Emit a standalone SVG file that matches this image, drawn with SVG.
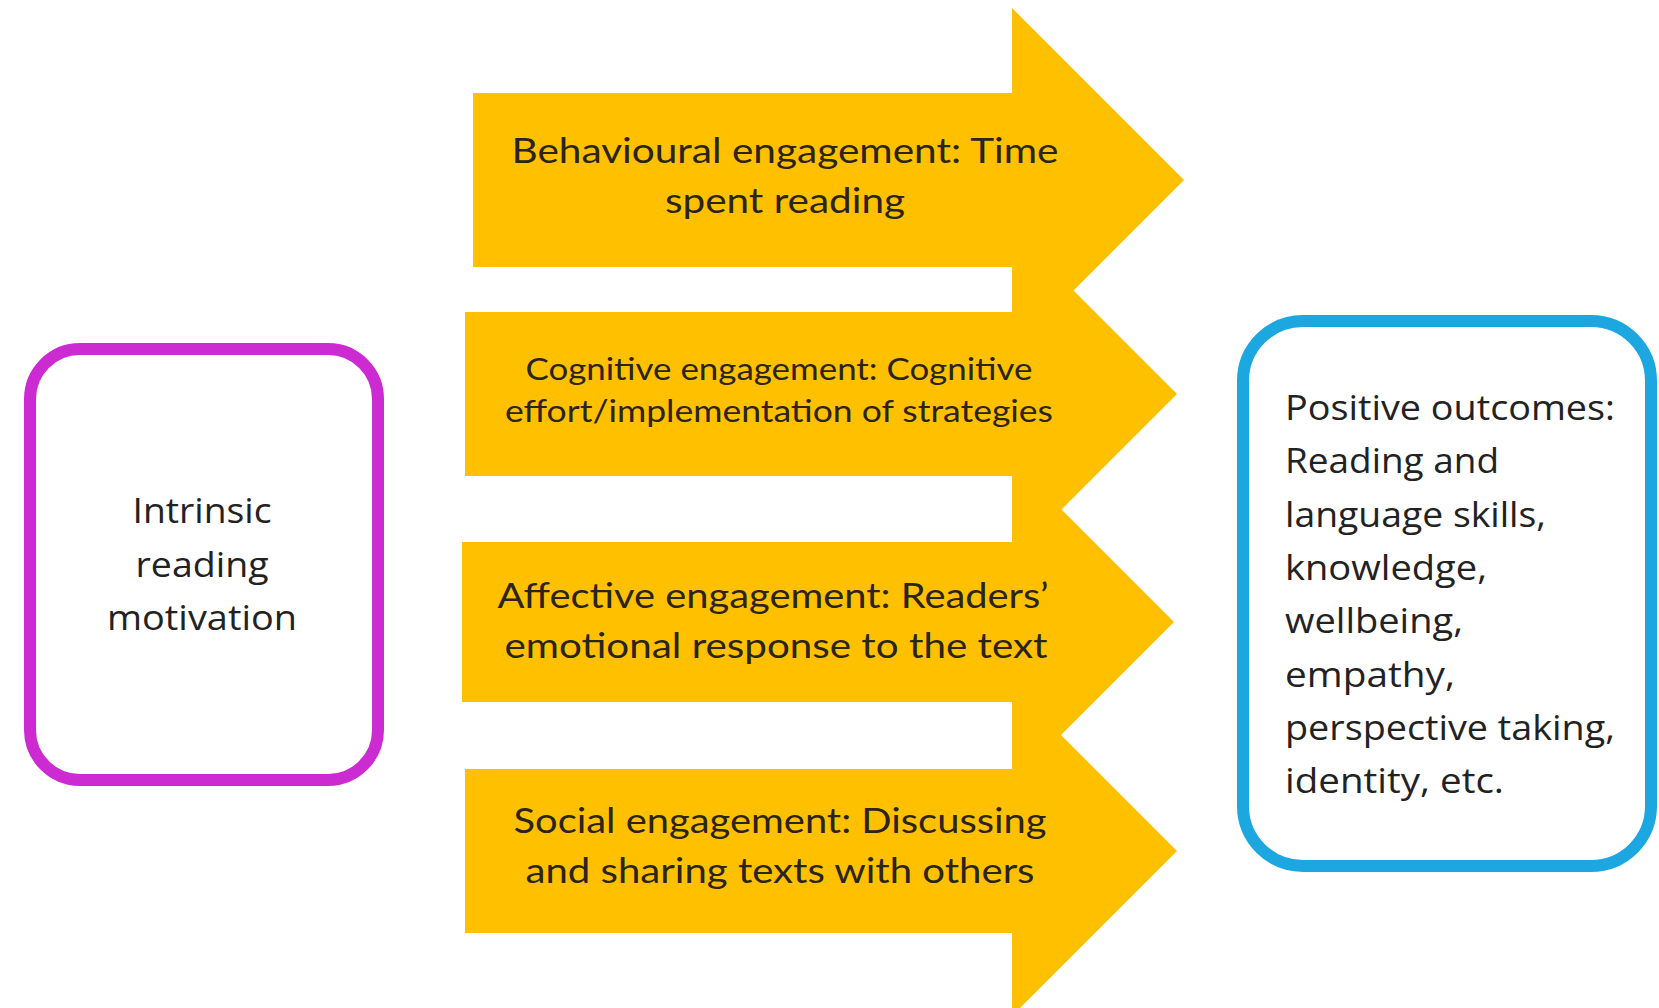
<svg xmlns="http://www.w3.org/2000/svg" width="1659" height="1008" viewBox="0 0 1659 1008">
<style>
.arrow{fill:#FFC000;stroke:none}
.at{font-family:Lato,"Liberation Sans",sans-serif;fill:#2b2418;text-anchor:middle}
.bt{font-family:"Open Sans","Noto Sans",sans-serif;fill:#222222;font-size:35px}
.box{fill:#ffffff;stroke-width:12}
</style>
<rect width="1659" height="1008" fill="#ffffff"/>
<g id="connectors">
  <g id="arrow-behavioural">
    <polygon class="arrow" points="473,93 1012,93 1012,8 1184,180 1012,352 1012,267 473,267"/>
  </g>
  <g id="arrow-cognitive">
    <polygon class="arrow" points="465,312 1012,312 1012,229 1177,394 1012,559 1012,476 465,476"/>
  </g>
  <g id="arrow-affective">
    <polygon class="arrow" points="462,542 1012,542 1012,460 1174,622 1012,784 1012,702 462,702"/>
  </g>
  <g id="arrow-social">
    <polygon class="arrow" points="465,769 1012,769 1012,686 1177,851 1012,1016 1012,933 465,933"/>
  </g>
</g>
<g id="labels">
  <text class="at" font-size="34" x="785" y="163" textLength="547" lengthAdjust="spacingAndGlyphs">Behavioural engagement: Time</text>
  <text class="at" font-size="34" x="785" y="213" textLength="240" lengthAdjust="spacingAndGlyphs">spent reading</text>
  <text class="at" font-size="30" x="779" y="380" textLength="507" lengthAdjust="spacingAndGlyphs">Cognitive engagement: Cognitive</text>
  <text class="at" font-size="30" x="779" y="422" textLength="548" lengthAdjust="spacingAndGlyphs">effort/implementation of strategies</text>
  <text class="at" font-size="34" x="773" y="608" textLength="551" lengthAdjust="spacingAndGlyphs">Affective engagement: Readers’</text>
  <text class="at" font-size="34" x="776" y="658" textLength="543" lengthAdjust="spacingAndGlyphs">emotional response to the text</text>
  <text class="at" font-size="34" x="780" y="833" textLength="533" lengthAdjust="spacingAndGlyphs">Social engagement: Discussing</text>
  <text class="at" font-size="34" x="780" y="883" textLength="509" lengthAdjust="spacingAndGlyphs">and sharing texts with others</text>
</g>
<g id="node-motivation">
  <rect class="box" x="30" y="349" width="348" height="431" rx="50" ry="50" stroke="#CB2BD0"/>
  <text class="bt" x="202" y="523" text-anchor="middle" textLength="139" lengthAdjust="spacingAndGlyphs">Intrinsic</text>
  <text class="bt" x="202" y="577" text-anchor="middle" textLength="133" lengthAdjust="spacingAndGlyphs">reading</text>
  <text class="bt" x="202" y="630" text-anchor="middle" textLength="190" lengthAdjust="spacingAndGlyphs">motivation</text>
</g>
<g id="node-outcomes">
  <rect class="box" x="1243" y="321" width="408" height="545" rx="60" ry="60" stroke="#1CA7E0"/>
  <text class="bt" x="1285" y="420" textLength="330" lengthAdjust="spacingAndGlyphs">Positive outcomes:</text>
  <text class="bt" x="1285" y="473" textLength="214" lengthAdjust="spacingAndGlyphs">Reading and</text>
  <text class="bt" x="1285" y="527" textLength="261" lengthAdjust="spacingAndGlyphs">language skills,</text>
  <text class="bt" x="1285" y="580" textLength="202" lengthAdjust="spacingAndGlyphs">knowledge,</text>
  <text class="bt" x="1285" y="633" textLength="178" lengthAdjust="spacingAndGlyphs">wellbeing,</text>
  <text class="bt" x="1285" y="687" textLength="170" lengthAdjust="spacingAndGlyphs">empathy,</text>
  <text class="bt" x="1285" y="740" textLength="330" lengthAdjust="spacingAndGlyphs">perspective taking,</text>
  <text class="bt" x="1285" y="793" textLength="219" lengthAdjust="spacingAndGlyphs">identity, etc.</text>
</g>
</svg>
